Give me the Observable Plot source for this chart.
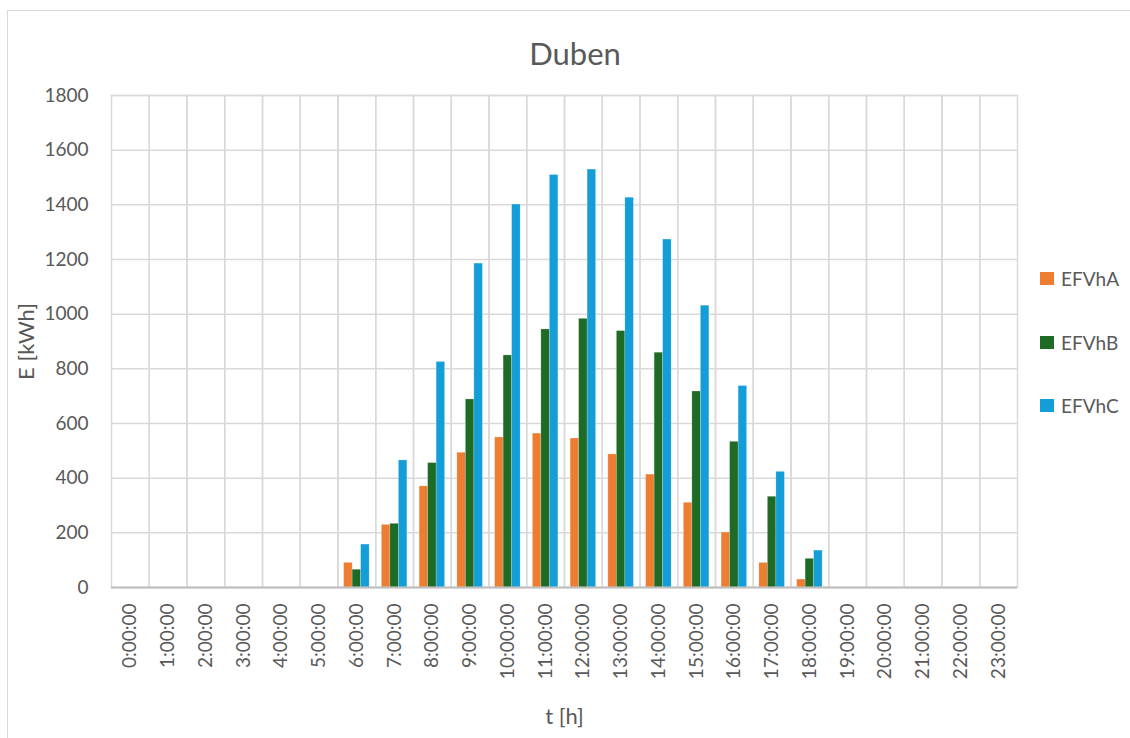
<!DOCTYPE html>
<html><head><meta charset="utf-8">
<script src="https://cdn.jsdelivr.net/npm/d3@7"></script>
<script src="https://cdn.jsdelivr.net/npm/@observablehq/plot@0.6"></script>
<style>
html,body{margin:0;padding:0;background:#fff;}
#wrap{position:relative;width:1130px;height:738px;overflow:hidden;font-family:Lato, "Open Sans", sans-serif;color:#595959;}
#border{position:absolute;left:7px;top:10px;width:1140px;height:760px;border:1px solid #d9d9d9;box-sizing:border-box;}
#title{position:absolute;top:33px;left:525px;width:100px;text-align:center;font-size:31px;line-height:40px;white-space:nowrap;}
#chart{position:absolute;left:0;top:0;}
.li{position:absolute;left:1040px;height:24px;display:flex;align-items:center;font-size:19px;white-space:nowrap;}
.sw{width:14px;height:13px;margin-right:7px;}
</style></head>
<body>
<div id="wrap">
  <div id="border"></div>
  <div id="chart"></div>
  <div id="title">Duben</div>
  <div id="legend"></div>
</div>
<script>
const hours = ["0:00:00","1:00:00","2:00:00","3:00:00","4:00:00","5:00:00","6:00:00","7:00:00","8:00:00","9:00:00","10:00:00","11:00:00","12:00:00","13:00:00","14:00:00","15:00:00","16:00:00","17:00:00","18:00:00","19:00:00","20:00:00","21:00:00","22:00:00","23:00:00"];
const series = ["EFVhA","EFVhB","EFVhC"];
const colors = ["#ED7D31","#1D6B24","#139ED8"];
const EFVhA = [0,0,0,0,0,0,90,229,370,493,549,563,545,487,413,310,201,90,29,0,0,0,0,0];
const EFVhB = [0,0,0,0,0,0,65,233,455,688,849,944,983,938,859,717,533,332,105,0,0,0,0,0];
const EFVhC = [0,0,0,0,0,0,157,465,825,1185,1401,1509,1529,1426,1273,1031,737,423,135,0,0,0,0,0];
const yTicks = [0,200,400,600,800,1000,1200,1400,1600,1800];
const yLabel = "E [kWh]";
const xLabel = "t [h]";

const valuesBySeries = {EFVhA, EFVhB, EFVhC};
const data = [];
hours.forEach((h, i) => series.forEach(s => data.push({hour: h, series: s, value: valuesBySeries[s][i]})));

const chart = Plot.plot({
  width: 1130,
  height: 738,
  marginTop: 95,
  marginLeft: 111,
  marginRight: 113,
  marginBottom: 151,
  style: {fontFamily: "Lato, 'Open Sans', sans-serif", fontSize: "19px", color: "#595959", background: "transparent", overflow: "visible"},
  fx: {domain: hours, padding: 0, round: false},
  x: {domain: series, paddingInner: 0, paddingOuter: 0.72, round: false, axis: null},
  y: {domain: [0, 1800]},
  color: {domain: series, range: colors},
  marks: [
    Plot.gridY(yTicks, {stroke: "#d9d9d9", strokeOpacity: 1, strokeWidth: 1.5}),
    Plot.frame({stroke: "#d9d9d9", strokeWidth: 1.5}),
    Plot.barY(data, {fx: "hour", x: "series", y: "value", fill: "series", stroke: "white", strokeOpacity: 0.35, strokeWidth: 0.6}),
    Plot.ruleY([0], {stroke: "#bfbfbf", strokeWidth: 2}),
    Plot.axisY(yTicks, {tickSize: 0, tickPadding: 23, tickFormat: d => String(d), fill: "#595959", fontSize: 19, label: yLabel, labelAnchor: "center", labelArrow: "none", labelOffset: 93}),
    Plot.axisFx({anchor: "bottom", tickSize: 0, tickPadding: 16, tickRotate: -90, fill: "#595959", fontSize: 19, label: xLabel, labelAnchor: "center", labelArrow: "none", labelOffset: 136})
  ]
});
d3.select(chart).selectAll("text")
  .filter(function() { return this.textContent === yLabel || this.textContent === xLabel; })
  .style("font-size", "22px").style("fill", "#595959");
document.getElementById("chart").appendChild(chart);

const legend = document.getElementById("legend");
const legendTops = [266, 330, 393];
series.forEach((s, i) => {
  const d = document.createElement("div");
  d.className = "li";
  d.style.top = legendTops[i] + "px";
  d.innerHTML = `<span class="sw" style="background:${colors[i]}"></span><span>${s}</span>`;
  legend.appendChild(d);
});
</script>
</body></html>
